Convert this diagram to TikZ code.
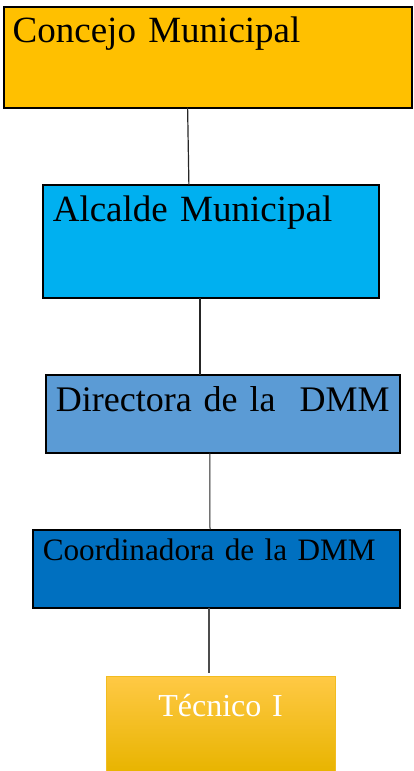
\documentclass[tikz,border=0pt]{standalone}
\usepackage{fontspec}
\setmainfont{Liberation Serif}
\usepackage{tikz}
\usetikzlibrary{shapes.geometric, arrows}
\definecolor{concejofill}{HTML}{FFC000}
\definecolor{alcaldefill}{HTML}{00B0F0}
\definecolor{directorafill}{HTML}{5B9BD5}
\definecolor{coordfill}{HTML}{0070C0}
\definecolor{tectop}{HTML}{FFC945}
\definecolor{tecmid}{HTML}{FFC600}
\definecolor{tecbottom}{HTML}{E8B400}
\definecolor{tecborder}{HTML}{F2BC20}
\tikzstyle{block} = [rectangle, draw, line width=2pt, anchor=north west,
    align=left, inner xsep=9pt, inner ysep=0pt, outer sep=0pt,
    font=\fontsize{37}{40}\selectfont]
\tikzstyle{line} = [draw, line width=1.2pt, black!85]

\begin{document}
\begin{tikzpicture}[x=1pt, y=-1pt]
    \useasboundingbox (0,0) rectangle (413,771);
    % Place nodes
    \node [block, fill=concejofill, text width=389.8pt, text height=35.7pt, text depth=64.8pt] (concejo) at (3.7,7) {Concejo Municipal};
    \node [block, fill=alcaldefill, inner xsep=10pt, text width=316.2pt, text height=36.9pt, text depth=75.8pt] (alcalde) at (42.8,184.8) {Alcalde Municipal};
    \node [block, fill=directorafill, inner xsep=10pt, text width=334.2pt, text height=36.5pt, text depth=40.8pt,
        font=\fontsize{36}{40}\selectfont] (directora) at (45.8,375.2) {\mbox{Directora de la\ \ DMM}};
    \node [block, fill=coordfill, inner xsep=10pt, text width=347.2pt, text height=30.5pt, text depth=47.5pt,
        font=\fontsize{31.2}{35}\selectfont] (coordinadora) at (32.8,529.5) {Coordinadora de la DMM};
    \node [block, draw=tecborder, line width=0.8pt, top color=tectop, middle color=tecmid, bottom color=tecbottom,
        align=center, text=white, text width=209pt, inner xsep=10pt, text height=40pt, text depth=56pt,
        font=\fontsize{32}{36}\selectfont] (tecnico) at (106,676) {Técnico I};
    % Draw edges
    \path [line] ([xshift=-20pt]concejo.south) -- ([xshift=-22pt]alcalde.north);
    \path [line] ([xshift=-11pt]alcalde.south) -- ([xshift=-23pt]directora.north);
    \path [line, line width=1pt] ([xshift=-13pt]directora.south) -- ([xshift=-6.4pt]coordinadora.north);
    \path [line, line width=2pt, black!70] ([xshift=-7.4pt]coordinadora.south) -- ([xshift=-11.5pt, yshift=3pt]tecnico.north);
\end{tikzpicture}
\end{document}
